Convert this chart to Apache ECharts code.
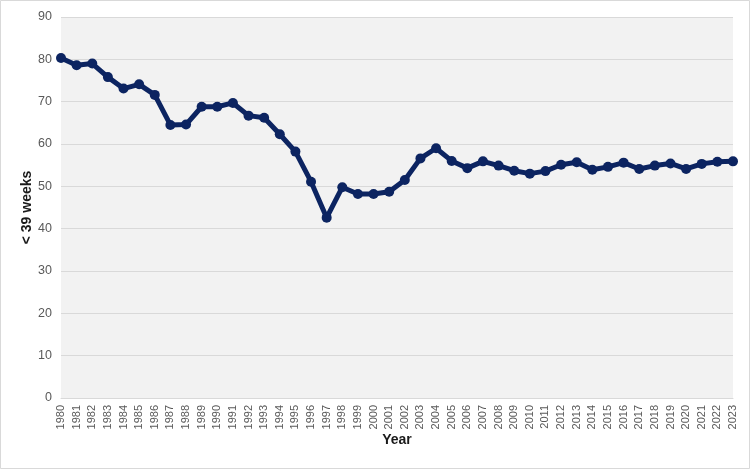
<!DOCTYPE html>
<html>
<head>
<meta charset="utf-8">
<script src="https://cdn.jsdelivr.net/npm/echarts@6/dist/echarts.min.js"></script>
<style>
  html, body { margin: 0; padding: 0; background: #fff; }
  #chart { width: 750px; height: 469px; }
</style>
</head>
<body>
<div id="chart"></div>
<script>
// Years on the x axis
const years = [
    '1980', '1981', '1982', '1983', '1984', '1985', '1986', '1987', '1988', '1989',
    '1990', '1991', '1992', '1993', '1994', '1995', '1996', '1997', '1998', '1999',
    '2000', '2001', '2002', '2003', '2004', '2005', '2006', '2007', '2008', '2009',
    '2010', '2011', '2012', '2013', '2014', '2015', '2016', '2017', '2018', '2019',
    '2020', '2021', '2022', '2023'
];

// "< 39 weeks" values
const under39 = [
    80.3, 78.6, 79.0, 75.8, 73.1, 74.1, 71.6, 64.5, 64.6, 68.8,
    68.8, 69.7, 66.7, 66.2, 62.3, 58.2, 51.1, 42.6, 49.8, 48.2,
    48.2, 48.7, 51.5, 56.6, 59.0, 56.0, 54.3, 55.9, 54.9, 53.7,
    53.0, 53.6, 55.1, 55.7, 53.9, 54.6, 55.6, 54.1, 54.9, 55.4,
    54.1, 55.3, 55.8, 55.9
];

const chart = echarts.init(document.getElementById('chart'));

chart.setOption({
    backgroundColor: '#ffffff',
    animation: false,
    textStyle: { fontFamily: 'Liberation Sans, Arial, sans-serif' },
    graphic: [{
        type: 'rect',
        shape: { x: 0.5, y: 0.5, width: 749, height: 468 },
        style: { fill: 'none', stroke: '#d9d9d9', lineWidth: 1 },
        z: 100
    }],
    grid: {
        left: 61,
        right: 17,
        top: 17,
        bottom: 71,
        show: true,
        backgroundColor: '#f2f2f2',
        borderWidth: 0
    },
    xAxis: {
        type: 'category',
        data: years,
        boundaryGap: false,
        name: 'Year',
        nameLocation: 'middle',
        nameGap: 35,
        nameMoveOverlap: false,
        nameTextStyle: { color: '#1a1a1a', fontSize: 14, fontWeight: 'bold' },
        axisLine: { show: true, lineStyle: { color: '#d9d9d9' } },
        axisTick: { show: false },
        axisLabel: {
            rotate: 90,
            interval: 0,
            color: '#595959',
            fontSize: 11,
            margin: 7
        }
    },
    yAxis: {
        type: 'value',
        min: 0,
        max: 90,
        interval: 10,
        name: '< 39 weeks',
        nameLocation: 'middle',
        nameGap: 27,
        nameMoveOverlap: false,
        nameTextStyle: { color: '#1a1a1a', fontSize: 14, fontWeight: 'bold' },
        axisLine: { show: false },
        axisTick: { show: false },
        axisLabel: { color: '#595959', fontSize: 12.5, margin: 9 },
        splitLine: { lineStyle: { color: '#d9d9d9', width: 1 } }
    },
    series: [{
        name: '< 39 weeks',
        type: 'line',
        data: under39,
        symbol: 'circle',
        symbolSize: 10,
        lineStyle: { color: '#0c2461', width: 5 },
        itemStyle: { color: '#0c2461' }
    }]
});
</script>
</body>
</html>
